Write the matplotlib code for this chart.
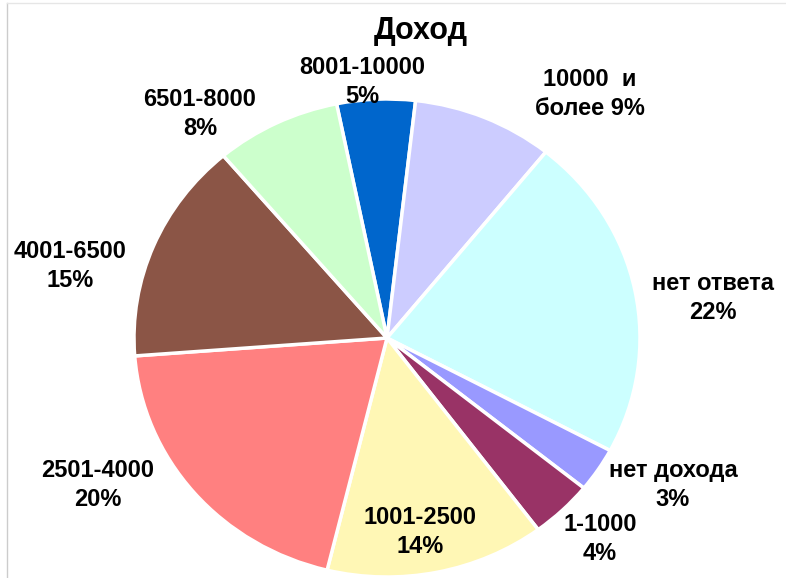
import matplotlib.pyplot as plt
from matplotlib.lines import Line2D

# data (clockwise from the top)
labels = ['8001-10000', '10000  и\nболее', 'нет ответа', 'нет дохода', '1-1000',
          '1001-2500', '2501-4000', '4001-6500', '6501-8000']
shares = [5, 9, 22, 3, 4, 14, 20, 15, 8]
colors = ['#0066cc', '#ccccff', '#ccffff', '#9999ff', '#993366',
          '#fff7b5', '#ff8080', '#8b5546', '#ccffcc']

# label anchor points in pixel coords (x, y from top)
label_pos = [(362, 82), (590, 94), (713, 298), (673, 485), (600, 539),
             (420, 532), (98, 485), (70, 266), (200, 114)]

W, H = 786, 578
# the original pie is a little wider than tall
sy = 253 / 239
fig = plt.figure(figsize=(W / 100, H / 100), dpi=100)
ax = fig.add_axes([0, 0, 1, 1])

ax.pie(shares, colors=colors, startangle=101.5, counterclock=False,
       center=(387, (H - 338) * sy), radius=253,
       wedgeprops=dict(edgecolor='white', linewidth=2.5))
# pie() resets the limits, so set the pixel frame afterwards
ax.set_xlim(0, W)
ax.set_ylim(0, H * sy)
ax.set_aspect('auto')
ax.axis('off')

font = ['Liberation Sans', 'DejaVu Sans']
for lab, val, (x, y) in zip(labels, shares, label_pos):
    if '\n' in lab:
        txt = lab + ' ' + str(val) + '%'
    else:
        txt = lab + '\n' + str(val) + '%'
    ax.text(x, (H - y) * sy, txt, ha='center', va='center', fontsize=17,
            fontweight='bold', family=font, linespacing=1.35)

ax.text(421, (H - 31) * sy, 'Доход', ha='center', va='center', fontsize=22,
        fontweight='bold', family=font)

# thin frame lines seen on the left and top of the original
fig.add_artist(Line2D([7 / W, 7 / W], [0, 1 - 3 / H], color='#cccccc', lw=1))
fig.add_artist(Line2D([7 / W, 1], [1 - 3 / H, 1 - 3 / H], color='#e6e6e6', lw=1))

fig.savefig('out.png', dpi=100)
